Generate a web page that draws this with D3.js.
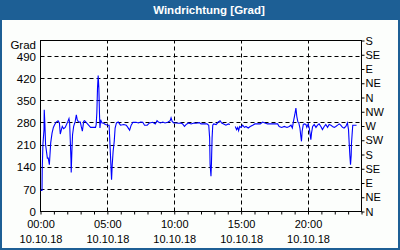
<!DOCTYPE html>
<html><head><meta charset="utf-8">
<script src="https://cdn.jsdelivr.net/npm/d3@7"></script>
<style>
html,body{margin:0;padding:0;background:#fff;}
svg{display:block;}
text{font-family:"Liberation Sans",Arial,sans-serif;font-size:11px;fill:#000;}
</style></head>
<body>
<svg id="c" width="400" height="250"></svg>
<script>
const title = "Windrichtung [Grad]";
const yAxisTitle = "Grad";
const dateLabel = "10.10.18";
const leftTicks = [0, 70, 140, 210, 280, 350, 420, 490];
const rightTickValues = [0, 45, 90, 135, 180, 225, 270, 315, 360, 405, 450, 495, 540];
const rightTickLabels = ["N","NE","E","SE","S","SW","W","NW","N","NE","E","SE","S"];
const xMajorHours = [0, 5, 10, 15, 20];
// minutes since midnight
const times = [3,9,10,13,18,19,22,25,33,37,42,48,54,60,66,73,81,87,91,96,100,106,113,119,125,130,133,136,139,140,143,146,151,158,163,167,173,181,185,190,196,200,209,218,227,239,249,252,255,258,261,264,267,269,272,278,284,293,305,310,313,316,318,321,324,328,333,337,343,351,357,
361,376,387,394,402,409,417,431,442,451,461,469,481,491,506,517,525,531,540,551,561,573,584,588,593,600,611,621,633,640,648,655,666,678,690,700,715,
722,737,749,757,761,763,767,769,772,775,779,790,800,808,815,824,834,845,852,864,876,882,887,891,896,902,909,917,924,934,943,954,964,976,988,999,1009,1021,1036,1051,1066,
1073,1084,1096,1108,1118,1126,1132,1137,1143,1148,1152,1157,1161,1166,1170,1173,1176,1181,1185,1193,1197,1203,1208,1212,1215,1218,1223,1230,1238,1245,1252,1260,1267,1275,1282,1290,1297,1305,1312,1320,1327,1335,1342,1349,1357,1364,1372,1379,1384,1387,1390,1393,1396,1397,1400,1403,1409,1420];
const values = [65,65,130,210,257,320,273,210,167,167,146,215,246,264,273,281,285,278,243,257,267,260,264,273,283,292,278,220,162,122,188,241,267,283,304,288,281,281,267,252,283,285,278,271,264,264,264,273,310,388,428,388,304,262,288,278,278,273,271,271,225,178,146,99,146,188,220,262,278,281,275,
271,273,271,264,255,271,280,280,278,281,280,271,271,278,280,275,285,281,278,281,278,280,285,294,283,278,278,277,278,275,267,273,278,275,278,277,279,
275,275,275,271,231,148,110,148,231,271,275,273,281,285,278,275,271,275,273,null,267,257,264,254,267,264,271,264,267,262,267,271,275,275,275,281,278,275,275,275,275,
267,264,267,264,267,271,262,283,304,325,299,281,278,262,236,220,252,273,275,273,264,275,262,241,225,246,267,273,264,271,275,267,257,267,273,264,273,271,267,264,267,271,275,271,264,262,267,278,257,215,176,146,176,210,241,271,271,271];

const svg = d3.select("#c");
const W = 400, H = 250;
const blue = "#1d5f95";
const L = 40, R = 361, T = 40, B = 211;
const FONT = '"Liberation Sans",Arial,sans-serif';

svg.append("rect").attr("width", W).attr("height", H).attr("fill", blue);
svg.append("rect").attr("x", 2).attr("y", 20).attr("width", W - 4).attr("height", H - 22).attr("fill", "#fcfefc");
svg.append("text").attr("x", 209).attr("y", 14).attr("text-anchor", "middle")
  .style("font-weight", "bold").style("font-size", "11.5px").style("fill", "#fff").text(title);

const x = d3.scaleLinear().domain([0, 1440]).range([L, R]);
const y = d3.scaleLinear().domain([0, 540]).range([B, T]);

const g = svg.append("g").attr("transform", "translate(0.5,0.5)");

// horizontal grid
g.selectAll(".hg").data(leftTicks.filter(d => d > 0)).join("line")
  .attr("x1", L).attr("x2", R).attr("y1", d => Math.round(y(d))).attr("y2", d => Math.round(y(d)))
  .attr("stroke", "#000").attr("stroke-dasharray", "4,3");
// vertical grid
g.selectAll(".vg").data(xMajorHours.filter(d => d > 0)).join("line")
  .attr("y1", B).attr("y2", T).attr("x1", d => Math.round(x(d * 60))).attr("x2", d => Math.round(x(d * 60)))
  .attr("stroke", "#000").attr("stroke-dasharray", "4,3");

// data line
const line = d3.line().defined(d => d[1] !== null).x(d => x(d[0])).y(d => y(d[1]));
svg.append("path").datum(times.map((t, i) => [t, values[i]]))
  .attr("d", line).attr("fill", "none").attr("stroke", "#0000ff").attr("stroke-width", 1.1);

// frame
g.append("rect").attr("x", L).attr("y", T).attr("width", R - L).attr("height", B - T)
  .attr("fill", "none").attr("stroke", "#000");

// left axis
const yl = d3.axisLeft(y).tickValues(leftTicks).tickSize(0).tickPadding(4);
const gl = svg.append("g").attr("transform", `translate(${L},0.5)`).call(yl);
gl.select(".domain").remove();
gl.selectAll("text").style("font-family", FONT).style("font-size", "11.5px");
svg.append("text").attr("x", 36).attr("y", 49).attr("text-anchor", "end")
  .style("font-size", "11.5px").text(yAxisTitle);

// right axis
const yr = d3.axisRight(y).tickValues(rightTickValues).tickFormat((d, i) => rightTickLabels[i]).tickSize(3).tickPadding(1);
const gr = svg.append("g").attr("transform", `translate(${R + 0.5},0.5)`).call(yr);
gr.select(".domain").remove();
gr.selectAll("text").style("font-family", FONT).style("font-size", "11px");

// bottom axis
const hours = d3.range(0, 25);
const xb = d3.axisBottom(x).tickValues(hours.map(h => h * 60)).tickSize(3)
  .tickFormat(d => (d / 60) % 5 === 0 && d / 60 < 24 ? d3.format("02")(d / 60) + ":00" : "");
const gb = svg.append("g").attr("transform", `translate(0.5,${B + 0.5})`).call(xb);
gb.select(".domain").remove();
gb.selectAll("text").style("font-family", FONT).style("font-size", "11px").attr("dy", "0.95em");
gb.selectAll(".tick").filter(d => (d / 60) % 5 === 0 && d / 60 < 24)
  .append("text").attr("y", 24).attr("dy", "0.71em").attr("fill", "#000")
  .style("font-family", FONT).style("font-size", "11px").attr("text-anchor", "middle").text(dateLabel);
</script>
</body></html>
